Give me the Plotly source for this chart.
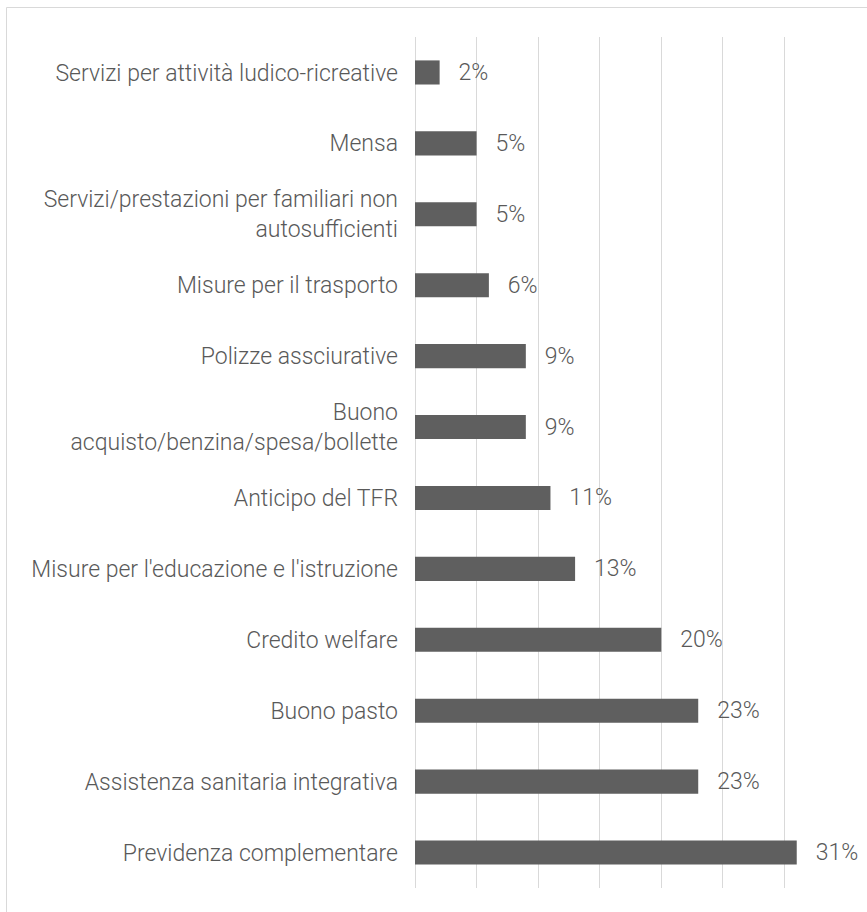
import plotly.graph_objects as go

categories = [
    "Previdenza complementare",
    "Assistenza sanitaria integrativa",
    "Buono pasto",
    "Credito welfare",
    "Misure per l'educazione e l'istruzione",
    "Anticipo del TFR",
    "Buono<br>acquisto/benzina/spesa/bollette",
    "Polizze assciurative",
    "Misure per il trasporto",
    "Servizi/prestazioni per familiari non<br>autosufficienti",
    "Mensa",
    "Servizi per attività ludico-ricreative",
]
values = [31, 23, 23, 20, 13, 11, 9, 9, 6, 5, 5, 2]

FONT = "Century Gothic, URW Gothic, Roboto, sans-serif"
TXT = "#595959"
SIZE = 23

fig = go.Figure(
    go.Bar(
        x=values,
        y=categories,
        orientation="h",
        marker=dict(color="#5f5f5f", line=dict(width=0)),
        width=0.34,
        text=values,
        texttemplate="\u00a0\u00a0\u2009%{x}%",
        textposition="outside",
        constraintext="none",
        textfont=dict(family=FONT, size=SIZE, color=TXT, weight=300),
        cliponaxis=False,
    )
)

fig.update_layout(
    width=867,
    height=912,
    margin=dict(l=415, r=21, t=37, b=24),
    paper_bgcolor="white",
    plot_bgcolor="white",
    showlegend=False,
    font=dict(family=FONT, size=SIZE, color=TXT, weight=300),
)

fig.update_xaxes(
    range=[0, 35],
    dtick=5,
    showgrid=True,
    gridcolor="#d9d9d9",
    gridwidth=1,
    zeroline=True,
    zerolinecolor="#d9d9d9",
    zerolinewidth=1,
    showticklabels=False,
    showline=False,
    fixedrange=True,
)
fig.update_yaxes(
    type="category",
    showgrid=False,
    showline=False,
    zeroline=False,
    ticks="",
    ticklabelstandoff=16,
    tickfont=dict(family=FONT, size=SIZE, color=TXT, weight=300),
)

# outer chart border
fig.add_shape(
    type="rect",
    xref="paper", yref="paper",
    x0=(6.5 - 415) / 431, x1=1.2,
    y0=-0.2, y1=(888 - 7.5) / 851,
    line=dict(color="#d9d9d9", width=1),
    fillcolor="rgba(0,0,0,0)",
    layer="below",
)

fig.write_html(
    "out.html",
    config={"displayModeBar": False},
    post_script="document.body.style.margin='0';document.body.style.padding='0';",
)
